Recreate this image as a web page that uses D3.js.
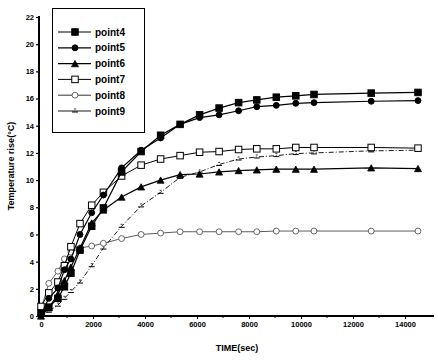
<!DOCTYPE html>
<html>
<head>
<meta charset="utf-8">
<script src="https://cdn.jsdelivr.net/npm/d3@7"></script>
<style>
  body { margin: 0; background: #fff; }
  svg text { font-family: "Liberation Sans", Arial, sans-serif; font-weight: bold; fill: #000; }
</style>
</head>
<body>
<script>
// time samples (sec), shared by all series
var times = [0, 300, 650, 900, 1150, 1500, 1950, 2400, 3100, 3850, 4600, 5350, 6100, 6850, 7600, 8300, 9050, 9800, 10500, 12700, 14500];

var point4 = [0.2, 0.65, 1.3, 2.15, 3.15, 4.85, 6.6, 7.95, 10.6, 12.1, 13.3, 14.1, 14.8, 15.3, 15.7, 15.9, 16.1, 16.2, 16.3, 16.4, 16.45];
var point5 = [0.1, 1.3, 2.05, 3.4, 4.2, 6.0, 7.6, 8.9, 10.9, 12.2, 13.1, 14.1, 14.6, 14.8, 15.1, 15.4, 15.5, 15.65, 15.7, 15.8, 15.85];
var point6 = [0, 0.6, 1.6, 2.6, 3.6, 5.0, 6.85, 7.8, 8.75, 9.5, 10.0, 10.4, 10.45, 10.6, 10.7, 10.75, 10.8, 10.8, 10.8, 10.9, 10.85];
var point7 = [0.7, 1.7, 2.5, 3.7, 5.1, 6.8, 8.15, 9.1, 10.3, 11.1, 11.55, 11.8, 12.05, 12.1, 12.25, 12.3, 12.3, 12.4, 12.4, 12.4, 12.35];
var point8 = [0.5, 2.4, 3.3, 4.2, 4.7, 5.0, 5.15, 5.35, 5.7, 6.0, 6.1, 6.2, 6.2, 6.2, 6.2, 6.2, 6.25, 6.25, 6.25, 6.25, 6.25];
var point9 = [0, 0.35, 0.8, 1.3, 1.8, 2.5, 3.7, 5.0, 6.6, 8.1, 9.1, 10.2, 10.6, 11.15, 11.55, 11.7, 11.8, 11.95, 12.0, 12.15, 12.2];

var seriesNames = ["point4", "point5", "point6", "point7", "point8", "point9"];
var xTicks = [0, 2000, 4000, 6000, 8000, 10000, 12000, 14000];
var yTicks = [0, 2, 4, 6, 8, 10, 12, 14, 16, 18, 20, 22];

var series = [
  {name: "point4", vals: point4, sym: "square", fill: "#000", dash: null, lw: 1.2},
  {name: "point5", vals: point5, sym: "circle", fill: "#000", dash: null, lw: 1.2},
  {name: "point6", vals: point6, sym: "triangle", fill: "#000", dash: null, lw: 1.2},
  {name: "point7", vals: point7, sym: "square", fill: "#fff", dash: null, lw: 1},
  {name: "point8", vals: point8, sym: "circle", fill: "#fff", dash: null, lw: 0.8},
  {name: "point9", vals: point9, sym: "dash", fill: "none", dash: "5,2,1,2", lw: 0.9}
];

var W = 438, H = 361;
var svg = d3.select("body").append("svg").attr("width", W).attr("height", H);

var x = d3.scaleLinear().domain([0, 15000]).range([41, 431]);
var y = d3.scaleLinear().domain([0, 22]).range([316, 17]);
var axisX0 = 39; // y-axis sits a touch left of t=0

// x axis
var gx = svg.append("g").attr("transform", "translate(0,316)")
  .call(d3.axisBottom(x).tickValues(xTicks).tickSize(3).tickPadding(3).tickFormat(d3.format("d")));
gx.select(".domain").remove();
gx.selectAll("text").style("font-size", "7.5px");
gx.selectAll("line").attr("stroke", "#000").attr("stroke-width", 1.2);
// minor x ticks
gx.selectAll("line.minor").data(d3.range(1000, 15000, 2000)).enter().append("line")
  .attr("class", "minor").attr("x1", d => x(d)).attr("x2", d => x(d))
  .attr("y1", 0).attr("y2", 2).attr("stroke", "#000").attr("stroke-width", 1);
svg.append("line").attr("x1", axisX0).attr("x2", 434).attr("y1", 316).attr("y2", 316)
  .attr("stroke", "#000").attr("stroke-width", 2);

// y axis
var gy = svg.append("g").attr("transform", "translate(" + axisX0 + ",0)")
  .call(d3.axisLeft(y).tickValues(yTicks).tickSize(3).tickPadding(2));
gy.select(".domain").remove();
gy.selectAll("text").style("font-size", "7.5px");
gy.selectAll("line").attr("stroke", "#000").attr("stroke-width", 1.2);
svg.append("line").attr("x1", axisX0).attr("x2", axisX0).attr("y1", y(22) - 1).attr("y2", 317)
  .attr("stroke", "#000").attr("stroke-width", 2);

// axis titles
svg.append("text").attr("x", 237).attr("y", 351).attr("text-anchor", "middle")
  .style("font-size", "9px").text("TIME(sec)");
svg.append("text").attr("transform", "translate(14,166) rotate(-90)").attr("text-anchor", "middle")
  .style("font-size", "9px").text("Temperature rise(\u00b0C)");

// markers
function drawMarker(g, sym, fill, cx, cy, s) {
  if (sym === "square") {
    g.append("rect").attr("x", cx - s / 2).attr("y", cy - s / 2).attr("width", s).attr("height", s)
      .attr("fill", fill).attr("stroke", "#000").attr("stroke-width", 1);
  } else if (sym === "circle") {
    g.append("circle").attr("cx", cx).attr("cy", cy).attr("r", s / 2 - 0.3)
      .attr("fill", fill).attr("stroke", fill === "#fff" ? "#444" : "#000").attr("stroke-width", fill === "#fff" ? 0.8 : 1);
  } else if (sym === "triangle") {
    var h = s * 0.9;
    g.append("path").attr("d", "M" + cx + "," + (cy - h / 2) + "L" + (cx + s / 2) + "," + (cy + h / 2) + "L" + (cx - s / 2) + "," + (cy + h / 2) + "Z")
      .attr("fill", fill).attr("stroke", "#000").attr("stroke-width", 0.8);
  } else {
    g.append("line").attr("x1", cx - 3).attr("x2", cx + 3).attr("y1", cy + 1).attr("y2", cy + 1)
      .attr("stroke", "#000").attr("stroke-width", 1);
    g.append("line").attr("x1", cx - 1).attr("x2", cx + 1).attr("y1", cy - 2).attr("y2", cy - 2)
      .attr("stroke", "#000").attr("stroke-width", 0.8);
  }
}

var line = d3.line().x(d => x(d[0])).y(d => y(d[1]));

// draw in reverse so filled series sit on top
series.slice().reverse().forEach(function(s) {
  var pts = times.map((t, i) => [t, s.vals[i]]);
  var g = svg.append("g");
  g.append("path").attr("d", line(pts)).attr("fill", "none")
    .attr("stroke", s.name === "point8" ? "#333" : "#000").attr("stroke-width", s.lw)
    .attr("stroke-dasharray", s.dash);
  pts.forEach(function(p) {
    drawMarker(g, s.sym, s.fill, x(p[0]), y(p[1]), s.sym === "triangle" ? 7 : 6.5);
  });
});

// legend
var lg = svg.append("g");
lg.append("rect").attr("x", 52.5).attr("y", 8.5).attr("width", 92).attr("height", 124)
  .attr("fill", "#fff").attr("stroke", "#000").attr("stroke-width", 1);
series.forEach(function(s, i) {
  var ly = 32 + i * 15.8;
  lg.append("line").attr("x1", 58).attr("x2", 91).attr("y1", ly).attr("y2", ly)
    .attr("stroke", "#000").attr("stroke-width", s.lw);
  drawMarker(lg, s.sym, s.fill, 75, ly, s.sym === "triangle" ? 7 : 6.5);
  lg.append("text").attr("x", 95).attr("y", ly + 3.5).style("font-size", "10px").text(seriesNames[i]);
});
</script>
</body>
</html>
